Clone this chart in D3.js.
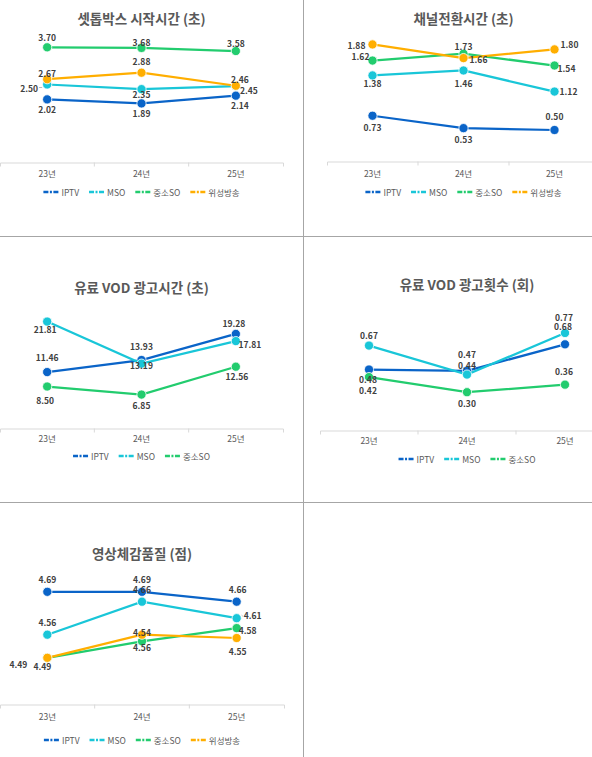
<!DOCTYPE html>
<html>
<head>
<meta charset="utf-8">
<script src="https://cdn.jsdelivr.net/npm/d3@7"></script>
<style>
  body { margin: 0; background: #fff; }
  svg { display: block; }
  text { font-family: "Noto Sans CJK KR", "Noto Sans", sans-serif; }
</style>
</head>
<body>
<svg id="chart" width="592" height="757"></svg>
<script>
// categories and series
const years = ['23년', '24년', '25년'];
const seriesNames = ['IPTV', 'MSO', '중소SO', '위성방송'];
const seriesColors = ['#0a64c8', '#19c6d8', '#22cc6e', '#ffae00'];

// values per chart, one row per series (IPTV, MSO, 중소SO, 위성방송)
const stbStart = [[2.02, 1.89, 2.14], [2.50, 2.35, 2.45], [3.70, 3.68, 3.58], [2.67, 2.88, 2.46]];
const chSwitch = [[0.73, 0.53, 0.50], [1.38, 1.46, 1.12], [1.62, 1.73, 1.54], [1.88, 1.66, 1.80]];
const vodAdTime = [[11.46, 13.93, 19.28], [21.81, 13.19, 17.81], [8.50, 6.85, 12.56]];
const vodAdCount = [[0.48, 0.47, 0.68], [0.67, 0.44, 0.77], [0.42, 0.30, 0.36]];
const videoQuality = [[4.69, 4.69, 4.66], [4.56, 4.66, 4.61], [4.49, 4.54, 4.58], [4.49, 4.56, 4.55]];

// panel layout (positions only, label nudges are [dx, dy, leader])
const panels = [
  { title: '셋톱박스 시작시간 (초)', data: stbStart, yDomain: [0, 4],
    x0: 0, x1: 283, yBase: 162, yTop: 38, titleY: 18, tickY: 173, legendY: 192,
    offsets: [
      [[0, 10], [0, 10], [4, 9]],
      [[-18, 3, true], [0, 5], [13, 4]],
      [[0, -10], [0, -6], [0, -8]],
      [[0, -6], [0, -12], [4, -7]]
    ] },
  { title: '채널전환시간 (초)', data: chSwitch, yDomain: [0, 2],
    x0: 327, x1: 600, yBase: 161, yTop: 37, titleY: 18, tickY: 173, legendY: 192,
    offsets: [
      [[0, 11], [0, 11], [0, -14]],
      [[0, 8], [0, 13], [14, -1]],
      [[-12, -5], [0, -8], [12, 2]],
      [[-16, 1], [15, 1], [15, -5]]
    ] },
  { title: '유료 VOD 광고시간 (초)', data: vodAdTime, yDomain: [0, 25],
    x0: 0, x1: 283, yBase: 428, yTop: 306, titleY: 287, tickY: 438, legendY: 456,
    offsets: [
      [[0, -15], [0, -14], [-2, -11]],
      [[-2, 7], [0, 1], [14, 3]],
      [[-2, 13], [0, 10], [1, 9]]
    ] },
  { title: '유료 VOD 광고횟수 (회)', data: vodAdCount, yDomain: [0, 1],
    x0: 320, x1: 614, yBase: 430, yTop: 304, titleY: 284, tickY: 440, legendY: 459,
    offsets: [
      [[-1, 9], [0, -17], [-2, -18]],
      [[0, -11], [0, -10], [-1, -16]],
      [[-1, 13], [0, 11], [-1, -14]]
    ] },
  { title: '영상체감품질 (점)', data: videoQuality, yDomain: [4.35, 4.75],
    x0: 0, x1: 284, yBase: 704, yTop: 572, titleY: 553, tickY: 716, legendY: 740,
    offsets: [
      [[0, -13], [0, -13], [1, -13]],
      [[0, -13], [0, -13], [16, -3, true]],
      [[-29, 6], [0, -9], [11, 2]],
      [[-5, 8], [0, 12], [1, 13]]
    ] }
];

const svg = d3.select('#chart');

// cell borders
const border = '#a6a6a6';
svg.append('line').attr('x1', 303.5).attr('x2', 303.5).attr('y1', 0).attr('y2', 757).attr('stroke', border);
[236.5, 502.5].forEach(yy => {
  svg.append('line').attr('x1', 0).attr('x2', 592).attr('y1', yy).attr('y2', yy).attr('stroke', border);
});

function drawPanel(p) {
  const g = svg.append('g');
  const x = d3.scaleBand().domain(years).range([p.x0, p.x1]);
  const y = d3.scaleLinear().domain(p.yDomain).range([p.yBase, p.yTop]);
  const cx = d => x(d) + x.bandwidth() / 2;
  const mid = (p.x0 + p.x1) / 2;

  g.append('text')
    .attr('x', mid).attr('y', p.titleY)
    .attr('text-anchor', 'middle').attr('dominant-baseline', 'central')
    .attr('font-size', 13.5).attr('font-weight', 'bold').attr('fill', '#595959')
    .text(p.title);

  // category axis, ticks on band edges like Excel
  const axis = d3.axisBottom(x).tickSizeInner(0).tickSizeOuter(4).tickPadding(p.tickY - p.yBase - 3);
  const ax = g.append('g').attr('transform', `translate(0,${p.yBase + 0.5})`).call(axis);
  ax.select('.domain').attr('stroke', '#d9d9d9');
  ax.selectAll('.tick text')
    .attr('font-size', 8.5).attr('fill', '#595959')
    .style('font-family', '"Noto Sans CJK KR", sans-serif');
  ax.selectAll('.edge').data(years.slice(1)).enter().append('line')
    .attr('class', 'edge')
    .attr('x1', d => x(d)).attr('x2', d => x(d)).attr('y1', 0).attr('y2', 4)
    .attr('stroke', '#d9d9d9');

  const line = d3.line().x((v, i) => cx(years[i])).y(v => y(v));

  p.data.forEach((vals, s) => {
    g.append('path').datum(vals)
      .attr('d', line).attr('fill', 'none')
      .attr('stroke', seriesColors[s]).attr('stroke-width', 2.25);
    g.selectAll(null).data(vals).enter().append('circle')
      .attr('cx', (v, i) => cx(years[i])).attr('cy', v => y(v))
      .attr('r', 4.6).attr('fill', seriesColors[s])
      .attr('stroke', '#fff').attr('stroke-width', 0.8);
  });

  p.data.forEach((vals, s) => {
    vals.forEach((v, i) => {
      const o = p.offsets[s][i];
      const px = cx(years[i]), py = y(v);
      const t = g.append('text')
        .attr('x', px + o[0]).attr('y', py + o[1])
        .attr('text-anchor', 'middle').attr('dominant-baseline', 'central')
        .attr('font-size', 8.5).attr('font-weight', 'bold').attr('fill', '#404040')
        .text(v.toFixed(2));
      if (o[2]) {
        const half = t.node().getComputedTextLength() / 2;
        const dir = o[0] < 0 ? -1 : 1;
        const lx = px + o[0] - dir * (half + 1);
        g.append('line')
          .attr('x1', lx).attr('y1', py + o[1] + (dir < 0 ? 0 : 1))
          .attr('x2', px + dir * 5).attr('y2', py + (dir < 0 ? o[1] : -3))
          .attr('stroke', '#a6a6a6').attr('stroke-width', 0.8);
      }
    });
  });

  // legend, centred under the plot
  const lg = g.append('g');
  let cursor = 0;
  p.data.forEach((vals, s) => {
    const item = lg.append('g').attr('transform', `translate(${cursor},0)`);
    item.append('line')
      .attr('x1', 0).attr('x2', 16).attr('y1', 0).attr('y2', 0)
      .attr('stroke', seriesColors[s]).attr('stroke-width', 2.5)
      .attr('stroke-dasharray', '5,1.5,2,1.5');
    const t = item.append('text')
      .attr('x', 18).attr('y', 0).attr('dominant-baseline', 'central')
      .attr('font-size', 8.5).attr('fill', '#595959')
      .text(seriesNames[s]);
    cursor += 18 + t.node().getComputedTextLength() + 10;
  });
  const total = cursor - 10;
  lg.attr('transform', `translate(${mid - total / 2},${p.legendY})`);
}

panels.forEach(drawPanel);
</script>
</body>
</html>
